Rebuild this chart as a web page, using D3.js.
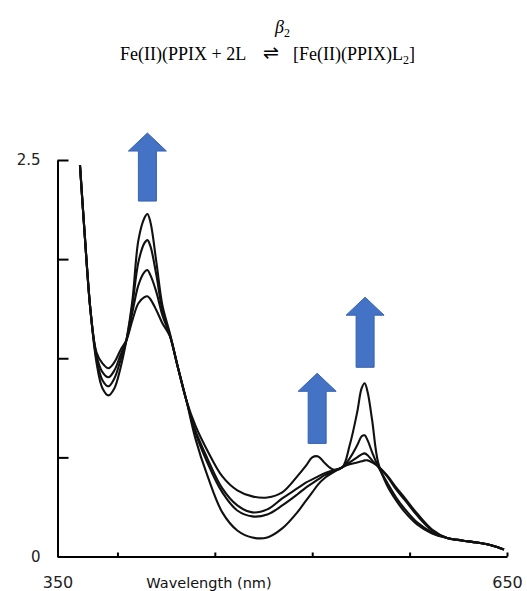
<!DOCTYPE html>
<html>
<head>
<meta charset="utf-8">
<script src="https://cdn.jsdelivr.net/npm/d3@7"></script>
<style>
  html, body { margin: 0; padding: 0; background: #ffffff; }
  svg { display: block; }
</style>
</head>
<body>
<svg id="chart" width="527" height="591"></svg>
<script>
// ---------- DATA ----------
const wavelengths = [365, 368, 372, 376, 380, 384, 388, 392, 396, 400, 404, 408, 410, 412, 416, 420, 425,
  430, 436, 442, 450, 460, 470, 480, 490, 500, 510, 516, 520, 524, 528, 534, 540,
  545, 550, 553, 555, 557, 560, 564, 570, 576, 582, 590, 600, 610, 620, 630, 640, 648];

// final spectrum (bis-ligand complex)
const absFinal = [2.468, 2.052, 1.553, 1.225, 1.061, 1.016, 1.061, 1.187, 1.364, 1.616, 1.995, 2.134, 2.159, 2.109, 1.856, 1.585, 1.408,
  1.206, 0.985, 0.827, 0.669, 0.505, 0.417, 0.379, 0.372, 0.404, 0.505, 0.574, 0.625, 0.631, 0.593, 0.549, 0.562,
  0.701, 0.909, 1.061, 1.092, 1.035, 0.859, 0.593, 0.448, 0.354, 0.278, 0.202, 0.145, 0.117, 0.101, 0.088, 0.069, 0.044];
const absStep2 = [2.468, 2.052, 1.553, 1.250, 1.111, 1.073, 1.124, 1.237, 1.364, 1.585, 1.856, 1.976, 1.995, 1.957, 1.774, 1.553, 1.395,
  1.206, 0.985, 0.795, 0.619, 0.429, 0.322, 0.278, 0.297, 0.366, 0.429, 0.467, 0.486, 0.505, 0.524, 0.543, 0.562,
  0.619, 0.701, 0.758, 0.764, 0.732, 0.657, 0.568, 0.467, 0.372, 0.297, 0.215, 0.152, 0.117, 0.101, 0.088, 0.069, 0.044];
const absStep1 = [2.468, 2.052, 1.553, 1.269, 1.162, 1.130, 1.174, 1.269, 1.364, 1.540, 1.711, 1.793, 1.806, 1.774, 1.667, 1.521, 1.395,
  1.206, 0.985, 0.783, 0.593, 0.404, 0.290, 0.253, 0.265, 0.322, 0.391, 0.436, 0.461, 0.486, 0.511, 0.537, 0.562,
  0.593, 0.625, 0.644, 0.650, 0.638, 0.606, 0.568, 0.505, 0.423, 0.354, 0.259, 0.164, 0.117, 0.101, 0.088, 0.069, 0.044];
// initial spectrum (Fe(II)PPIX)
const absInitial = [2.468, 2.052, 1.553, 1.288, 1.218, 1.187, 1.225, 1.301, 1.364, 1.490, 1.597, 1.635, 1.641, 1.622, 1.553, 1.471, 1.389,
  1.206, 0.985, 0.745, 0.511, 0.278, 0.164, 0.120, 0.120, 0.177, 0.278, 0.354, 0.404, 0.455, 0.492, 0.530, 0.562,
  0.581, 0.593, 0.600, 0.606, 0.606, 0.593, 0.568, 0.511, 0.436, 0.366, 0.271, 0.170, 0.117, 0.101, 0.088, 0.069, 0.044];

const seriesList = [absInitial, absStep1, absStep2, absFinal];

const yTicks = [0, 0.625, 1.25, 1.875, 2.5];
const yTickLabels = ["0", "", "", "", "2.5"];
const xTicks = [390, 455, 520, 585, 650];
const xLabels = [350, 650];
const xTitle = "Wavelength (nm)";

// arrows: wavelength, base absorbance, tip absorbance
const arrowWl = [410, 523.3, 555.3];
const arrowBase = [2.241, 0.713, 1.193];
const arrowTip = [2.670, 1.155, 1.635];

// ---------- CHART ----------
const svg = d3.select("#chart");
const x = d3.scaleLinear().domain([350, 650]).range([57.5, 507]);
const y = d3.scaleLinear().domain([0, 2.5]).range([556.5, 160]);

// title
const tFont = "'Liberation Serif', 'Times New Roman', serif";
svg.append("text").attr("x", 275).attr("y", 33)
  .attr("font-family", tFont).attr("font-size", 18).attr("font-style", "italic")
  .text("β")
  .append("tspan").attr("font-style", "normal").attr("font-size", 12).attr("dy", 4).text("2");
svg.append("text").attr("x", 120).attr("y", 60)
  .attr("font-family", tFont).attr("font-size", 18).text("Fe(II)(PPIX + 2L");
svg.append("text").attr("x", 271).attr("y", 59).attr("text-anchor", "middle")
  .attr("font-family", "'DejaVu Sans', sans-serif").attr("font-size", 19).text("⇌");
const t3 = svg.append("text").attr("x", 293).attr("y", 60)
  .attr("font-family", tFont).attr("font-size", 18);
t3.append("tspan").text("[Fe(II)(PPIX)L");
t3.append("tspan").attr("font-size", 12).attr("dy", 4).text("2");
t3.append("tspan").attr("dy", -4).text("]");

// axes
const axFont = "'DejaVu Sans', Verdana, sans-serif";
const yAxis = svg.append("g").attr("transform", "translate(57.5,0)")
  .call(d3.axisLeft(y).tickValues(yTicks).tickSize(-11).tickSizeOuter(0).tickPadding(17)
    .tickFormat((d, i) => yTickLabels[i]));
yAxis.selectAll("path, line").attr("stroke", "#000").attr("stroke-width", 2);
yAxis.selectAll("text").attr("font-family", axFont).attr("font-size", 15).attr("fill", "#222");

const xAxis = svg.append("g").attr("transform", "translate(0,556.5)")
  .call(d3.axisBottom(x).tickValues(xTicks).tickSize(-4).tickSizeOuter(0).tickFormat(""));
xAxis.selectAll("path, line").attr("stroke", "#000").attr("stroke-width", 2);

const xLab = svg.append("g").attr("transform", "translate(0,556.5)")
  .call(d3.axisBottom(x).tickValues(xLabels).tickSize(0).tickPadding(20).tickFormat(d3.format("d")));
xLab.select(".domain").remove();
xLab.selectAll("text").attr("font-family", axFont).attr("font-size", 16).attr("fill", "#222");

svg.append("text").attr("x", 209).attr("y", 588).attr("text-anchor", "middle")
  .attr("font-family", axFont).attr("font-size", 14.5).attr("fill", "#111").text(xTitle);

// curves
const line = d3.line()
  .x((d, i) => x(wavelengths[i]))
  .y(d => y(d))
  .curve(d3.curveCatmullRom.alpha(0.5));
svg.append("g").selectAll("path").data(seriesList).join("path")
  .attr("d", line)
  .attr("fill", "none")
  .attr("stroke", "#111")
  .attr("stroke-width", 2.1)
  .attr("stroke-linejoin", "round");

// arrows
const shaftW = 18, headW = 38, headH = 18;
arrowWl.forEach((wl, i) => {
  const cx = x(wl), yb = y(arrowBase[i]), yt = y(arrowTip[i]);
  const yh = yt + headH;
  const pts = [
    [cx - shaftW / 2, yb], [cx - shaftW / 2, yh], [cx - headW / 2, yh], [cx, yt],
    [cx + headW / 2, yh], [cx + shaftW / 2, yh], [cx + shaftW / 2, yb]
  ];
  svg.append("path").attr("d", "M" + pts.map(p => p.join(",")).join("L") + "Z")
    .attr("fill", "#4472C4").attr("stroke", "#3762b0").attr("stroke-width", 1);
});
</script>
</body>
</html>
